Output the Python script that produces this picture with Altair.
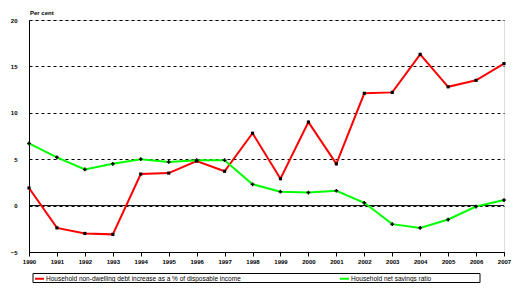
import altair as alt
import pandas as pd

years = list(range(1990, 2008))
debt = [1.9, -2.4, -3.0, -3.1, 3.4, 3.5, 4.8, 3.7, 7.8, 2.9, 9.0, 4.5, 12.1, 12.2, 16.3, 12.8, 13.5, 15.3]
savings = [6.7, 5.2, 3.9, 4.5, 5.0, 4.7, 4.9, 4.9, 2.3, 1.5, 1.4, 1.6, 0.3, -2.0, -2.4, -1.5, -0.1, 0.6]
s1 = "Household non-dwelling debt increase as a % of disposable income"
s2 = "Household net savings ratio"

df = pd.DataFrame({
    "year": years * 2,
    "value": debt + savings,
    "series": [s1] * len(years) + [s2] * len(years),
})

FONT = "Liberation Sans"
W, H = 475, 232

xscale = alt.Scale(domain=[1990, 2007], nice=False)
yscale = alt.Scale(domain=[-5, 20], nice=False)

xaxis = alt.Axis(values=years, format="d", title=None, grid=False,
                 labelFontSize=6, labelFont=FONT, labelFontWeight="bold",
                 labelColor="black", tickColor="black", domainColor="black",
                 tickSize=4, labelPadding=2, labelFlush=False, labelOverlap=False)
yaxis = alt.Axis(values=[-5, 0, 5, 10, 15, 20], title=None, grid=True,
                 gridDash=[3, 3], gridColor="black", gridWidth=1,
                 labelFontSize=6, labelFont=FONT, labelFontWeight="bold",
                 labelColor="black", ticks=False, domainColor="black",
                 labelPadding=12, labelOverlap=False)

x = alt.X("year:Q", scale=xscale, axis=xaxis)
y = alt.Y("value:Q", scale=yscale, axis=yaxis)

color = alt.Color("series:N",
                  scale=alt.Scale(domain=[s1, s2], range=["#FF0000", "#00FF00"]),
                  legend=alt.Legend(title=None, orient="none", legendX=3, legendY=253,
                                    direction="horizontal", symbolType="stroke",
                                    symbolStrokeWidth=2, symbolSize=80,
                                    labelFontSize=6.5, labelFont=FONT,
                                    labelColor="black", columnPadding=95,
                                    symbolOffset=2, labelOffset=1, labelLimit=400))

zero_df = pd.DataFrame({"value": [0]})
zero = alt.Chart(zero_df).mark_rule(color="black", strokeWidth=1).encode(y=y)

lines = alt.Chart(df).mark_line(strokeWidth=2).encode(x=x, y=y, color=color)

pts_red = alt.Chart(df[df.series == s1]).mark_square(color="black", size=10, opacity=1).encode(
    x=x, y=y)
pts_green = alt.Chart(df[df.series == s2]).mark_point(shape="cross", color="black", size=14,
                                                      filled=True, opacity=1).encode(
    x=x, y=y)

legend_box = alt.Chart(pd.DataFrame({"a": [0]})).mark_rect(
    fill=None, stroke="black", strokeWidth=1).encode(
    x=alt.value(4), x2=alt.value(451), y=alt.value(253.5), y2=alt.value(262.5))

label = alt.Chart(pd.DataFrame({"t": ["Per cent"]})).mark_text(
    font=FONT, fontSize=6, fontWeight="bold", align="left", baseline="bottom", color="black"
).encode(text="t:N", x=alt.value(1), y=alt.value(-4))

chart = alt.layer(zero, lines, pts_red, pts_green, legend_box, label).properties(
    width=W, height=H,
    padding={"left": 29, "top": 20, "right": 24, "bottom": 45},
    autosize=alt.AutoSizeParams(type="none"),
).configure_view(stroke="black", strokeWidth=1).configure(background="white")

chart.save("out.html", embed_options={"renderer": "svg", "actions": False})
